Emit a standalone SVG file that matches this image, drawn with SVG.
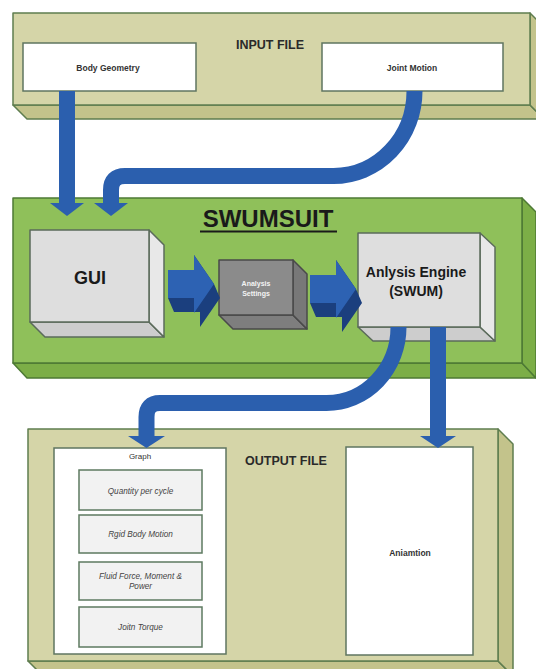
<svg xmlns="http://www.w3.org/2000/svg" xmlns:xlink="http://www.w3.org/1999/xlink" width="536" height="669" viewBox="0 0 536 669">
  <style>
    text { font-family: "Liberation Sans", Arial, sans-serif; fill: #222; text-anchor: middle; }
    .kf { fill: #d5d5a8; stroke: #5f7d4f; stroke-width: 1.5; stroke-linejoin: round; }
    .ks { fill: #c3c38b; stroke: #5f7d4f; stroke-width: 1.5; stroke-linejoin: round; }
    .gf { fill: #8fc05a; stroke: #4e7a35; stroke-width: 1.5; stroke-linejoin: round; }
    .gs { fill: #7cae47; stroke: #4e7a35; stroke-width: 1.5; stroke-linejoin: round; }
    .lf { fill: #dedede; stroke: #5b6b5b; stroke-width: 1.5; stroke-linejoin: round; }
    .lr { fill: #e8e8e8; stroke: #5b6b5b; stroke-width: 1.5; stroke-linejoin: round; }
    .lb { fill: #cdcdcd; stroke: #5b6b5b; stroke-width: 1.5; stroke-linejoin: round; }
    .df { fill: #8b8b8b; stroke: #4a4a4a; stroke-width: 1.5; stroke-linejoin: round; }
    .dr { fill: #787878; stroke: #4a4a4a; stroke-width: 1.5; stroke-linejoin: round; }
    .db { fill: #7e7e7e; stroke: #4a4a4a; stroke-width: 1.5; stroke-linejoin: round; }
    .wb { fill: #ffffff; stroke: #5f7560; stroke-width: 1.5; }
    .sb { fill: #f2f2f2; stroke: #5d7a60; stroke-width: 1.5; }
    .flow { fill: none; stroke: #2b5fae; stroke-width: 16; }
    .head { fill: #2b5fae; }
    .cfront { fill: #2d62b3; }
    .cdark { fill: #1b3f7e; }
    .lbl { font-size: 8.5px; font-weight: bold; fill: #333; }
    .title { font-size: 12.5px; font-weight: bold; fill: #2a2a2a; }
    .it { font-size: 8.2px; font-style: italic; fill: #444; }
  </style>
  <defs>
    <g id="chev">
      <polygon class="cdark" points="168,270 194,270 194,255 214,284 220,298 200,327 200,312 174,312 168,298"/>
      <polygon class="cfront" points="168,270 194,270 194,255 214,284 194,313 194,298 168,298"/>
    </g>
  </defs>

  <!-- INPUT FILE -->
  <g id="input-file">
    <polygon class="ks" points="13,105 530,105 544,119 27,119"/>
    <polygon class="ks" points="530,13 544,27 544,119 530,105"/>
    <rect class="kf" x="13" y="13" width="517" height="92"/>
    <text class="title" x="270" y="49">INPUT FILE</text>
  </g>
  <g id="body-geometry">
    <rect class="wb" x="23" y="43" width="173" height="48"/>
    <text class="lbl" x="108" y="71">Body Geometry</text>
  </g>
  <g id="joint-motion">
    <rect class="wb" x="322" y="43" width="181" height="48"/>
    <text class="lbl" x="412" y="71">Joint Motion</text>
  </g>

  <!-- SWUMSUIT -->
  <g id="swumsuit">
    <polygon class="gs" points="13,363 522,363 536,378 27,378"/>
    <polygon class="gs" points="522,198 536,212 536,378 522,363"/>
    <rect class="gf" x="13" y="198" width="509" height="165"/>
    <text x="268" y="227" style="font-size:24px;font-weight:bold;fill:#1a1a1a">SWUMSUIT</text>
    <line x1="200" y1="231.5" x2="337" y2="231.5" stroke="#1a1a1a" stroke-width="2"/>
  </g>
  <g id="gui">
    <polygon class="lb" points="30,322 149,322 164,337 45,337"/>
    <polygon class="lr" points="149,230 164,245 164,337 149,322"/>
    <rect class="lf" x="30" y="230" width="119" height="92"/>
    <text x="90" y="284" style="font-size:18px;font-weight:bold;fill:#1a1a1a">GUI</text>
  </g>
  <g id="analysis-settings">
    <polygon class="db" points="219,315 293,315 307,329 233,329"/>
    <polygon class="dr" points="293,260 307,274 307,329 293,315"/>
    <rect class="df" x="219" y="260" width="74" height="55"/>
    <text x="256" y="286" style="font-size:7px;font-weight:bold;fill:#f4f4f4">Analysis</text>
    <text x="256" y="296" style="font-size:7px;font-weight:bold;fill:#f4f4f4">Settings</text>
  </g>
  <g id="analysis-engine">
    <polygon class="lb" points="358,327 480,327 495,341 373,341"/>
    <polygon class="lr" points="480,233 495,247 495,341 480,327"/>
    <rect class="lf" x="358" y="233" width="122" height="94"/>
    <text x="416" y="277" style="font-size:14px;font-weight:bold;fill:#1a1a1a">Anlysis Engine</text>
    <text x="416" y="296" style="font-size:14px;font-weight:bold;fill:#1a1a1a">(SWUM)</text>
  </g>

  <!-- OUTPUT FILE -->
  <g id="output-file">
    <polygon class="ks" points="28,661 498,661 513,676 43,676"/>
    <polygon class="ks" points="498,429 513,444 513,676 498,661"/>
    <rect class="kf" x="28" y="429" width="470" height="232"/>
    <text class="title" x="286" y="465">OUTPUT FILE</text>
  </g>
  <g id="graph">
    <rect class="wb" x="54" y="448" width="172" height="206"/>
    <text x="140" y="459" style="font-size:8px;fill:#333">Graph</text>
    <g id="quantity-per-cycle">
      <rect class="sb" x="79" y="470" width="123" height="40"/>
      <text class="it" x="140.5" y="494">Quantity per cycle</text>
    </g>
    <g id="rigid-body-motion">
      <rect class="sb" x="79" y="515" width="123" height="38"/>
      <text class="it" x="140.5" y="537">Rgid Body Motion</text>
    </g>
    <g id="fluid-force">
      <rect class="sb" x="79" y="562" width="123" height="38"/>
      <text class="it" x="140.5" y="579">Fluid Force, Moment &amp;</text>
      <text class="it" x="140.5" y="589">Power</text>
    </g>
    <g id="joint-torque">
      <rect class="sb" x="79" y="607" width="123" height="40"/>
      <text class="it" x="140.5" y="630">Joitn Torque</text>
    </g>
  </g>
  <g id="animation">
    <rect class="wb" x="346" y="447" width="127" height="208"/>
    <text class="lbl" x="410" y="556">Aniamtion</text>
  </g>

  <!-- CONNECTORS -->
  <g id="connectors">
    <path class="flow" d="M67,91 V205"/>
    <polygon class="head" points="50,203 84,203 67,216"/>
    <path class="flow" d="M414.5,91 A81,85 0 0 1 333.5,176 H125 Q111,176 111,190 V205"/>
    <polygon class="head" points="94,203 128,203 111,216"/>
    <use xlink:href="#chev"/>
    <use xlink:href="#chev" transform="translate(142,5)"/>
    <path class="flow" d="M398.5,327 A72,76 0 0 1 326.5,403 H160 Q146.5,403 146.5,417 V438"/>
    <polygon class="head" points="128,436 165,436 146.5,448"/>
    <path class="flow" d="M438,327 V438"/>
    <polygon class="head" points="420,436 456,436 438,448"/>
  </g>
</svg>
